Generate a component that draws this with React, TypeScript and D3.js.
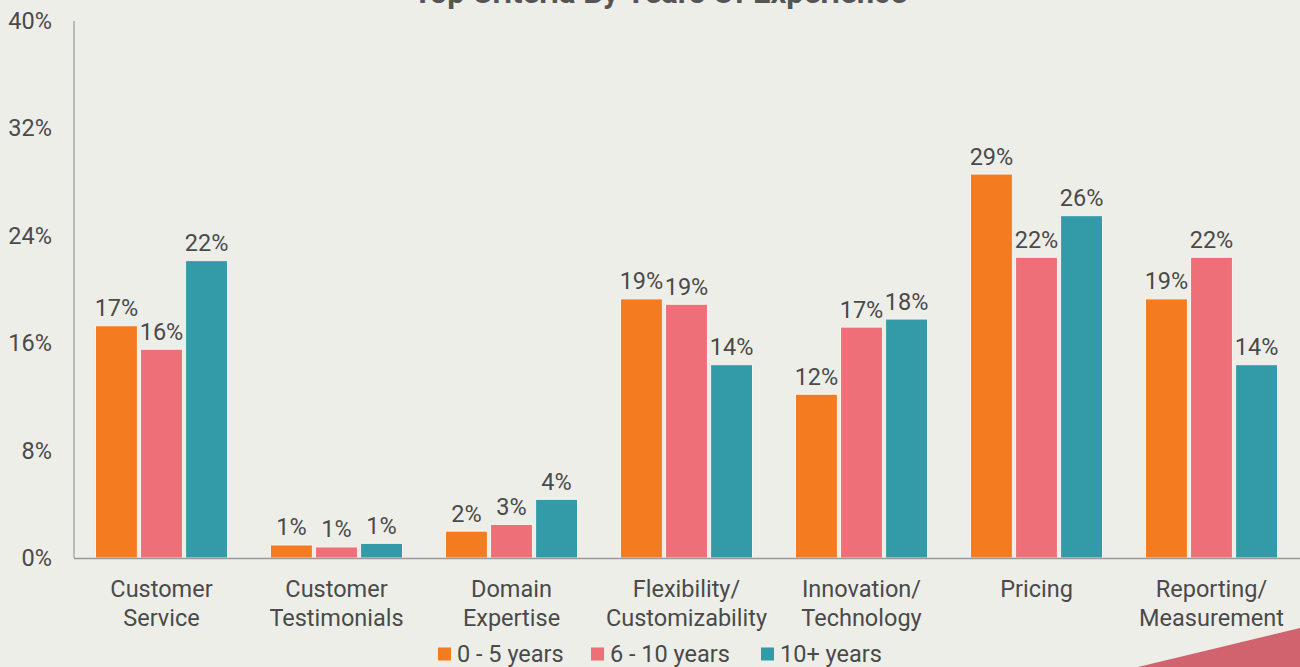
import React from "react";
import * as d3 from "d3";

const categories = [
  ["Customer", "Service"],
  ["Customer", "Testimonials"],
  ["Domain", "Expertise"],
  ["Flexibility/", "Customizability"],
  ["Innovation/", "Technology"],
  ["Pricing"],
  ["Reporting/", "Measurement"],
];
const seriesNames = ["0 - 5 years", "6 - 10 years", "10+ years"];
const seriesColors = ["#F47B20", "#EE6F78", "#339BA8"];
const years0to5 = [17.3, 0.97, 2.0, 19.3, 12.2, 28.6, 19.3];
const years6to10 = [15.55, 0.82, 2.5, 18.9, 17.2, 22.4, 22.4];
const years10plus = [22.15, 1.09, 4.37, 14.4, 17.8, 25.5, 14.4];
const yTicks = [0, 8, 16, 24, 32, 40];
const title = "Top Criteria By Years Of Experience";

const W = 1300;
const H = 667;
const FONT = "Roboto, 'Noto Sans', sans-serif";
const TEXT = "#4a4a4a";
const FS = 23.5;

export default function App() {
  const series = [years0to5, years6to10, years10plus];
  const catKeys = categories.map((c) => c.join(" "));
  const x0 = d3.scaleBand<string>().domain(catKeys).range([74, 1299]).padding(0);
  const x1 = d3
    .scaleBand<string>()
    .domain(seriesNames)
    .range([21.5, x0.bandwidth() - 21.5])
    .paddingInner(0.07)
    .paddingOuter(0);
  const y = d3.scaleLinear().domain([0, 40]).range([558, 21]);

  const legendItems = [
    { x: 438, textX: 457 },
    { x: 591, textX: 610 },
    { x: 761, textX: 780 },
  ];

  return (
    <svg
      width={W}
      height={H}
      style={{ position: "absolute", left: 0, top: 0, display: "block" }}
      fontFamily={FONT}
    >
      <rect x={0} y={0} width={W} height={H} fill="#EEEEE9" />
      <polygon points="1138,667 1300,628 1300,667" fill="#D0636E" />
      <text
        x={660}
        y={3}
        textAnchor="middle"
        fontSize={31}
        fontWeight={700}
        fill="#555"
      >
        {title}
      </text>

      {yTicks.map((t) => (
        <text
          key={t}
          x={52}
          y={y(t) + 8}
          textAnchor="end"
          fontSize={FS}
          fill={TEXT}
        >
          {t + "%"}
        </text>
      ))}

      {catKeys.map((k, ci) => (
        <g key={k} transform={`translate(${x0(k)},0)`}>
          {series.map((vals, si) => {
            const v = vals[ci];
            const bx = x1(seriesNames[si])!;
            const bw = x1.bandwidth();
            return (
              <g key={si}>
                <rect
                  x={bx}
                  y={y(v)}
                  width={bw}
                  height={y(0) - y(v)}
                  fill={seriesColors[si]}
                  stroke="#f7f3ee"
                  strokeWidth={1}
                />
                <text
                  x={bx + bw / 2}
                  y={y(v) - 9.5}
                  textAnchor="middle"
                  fontSize={FS}
                  fill={TEXT}
                >
                  {Math.round(v) + "%"}
                </text>
              </g>
            );
          })}
          {categories[ci].map((line, li) => (
            <text
              key={li}
              x={x0.bandwidth() / 2}
              y={597 + li * 28.5}
              textAnchor="middle"
              fontSize={FS}
              fill={TEXT}
            >
              {line}
            </text>
          ))}
        </g>
      ))}

      <line x1={74} x2={74} y1={21} y2={558} stroke="#999" strokeWidth={1.2} />
      <line x1={74} x2={1300} y1={558.5} y2={558.5} stroke="#999" strokeWidth={1.5} />

      {seriesNames.map((n, i) => (
        <g key={n}>
          <rect
            x={legendItems[i].x}
            y={647.5}
            width={13}
            height={13}
            fill={seriesColors[i]}
          />
          <text x={legendItems[i].textX} y={662} fontSize={FS} fill={TEXT}>
            {n}
          </text>
        </g>
      ))}
    </svg>
  );
}
